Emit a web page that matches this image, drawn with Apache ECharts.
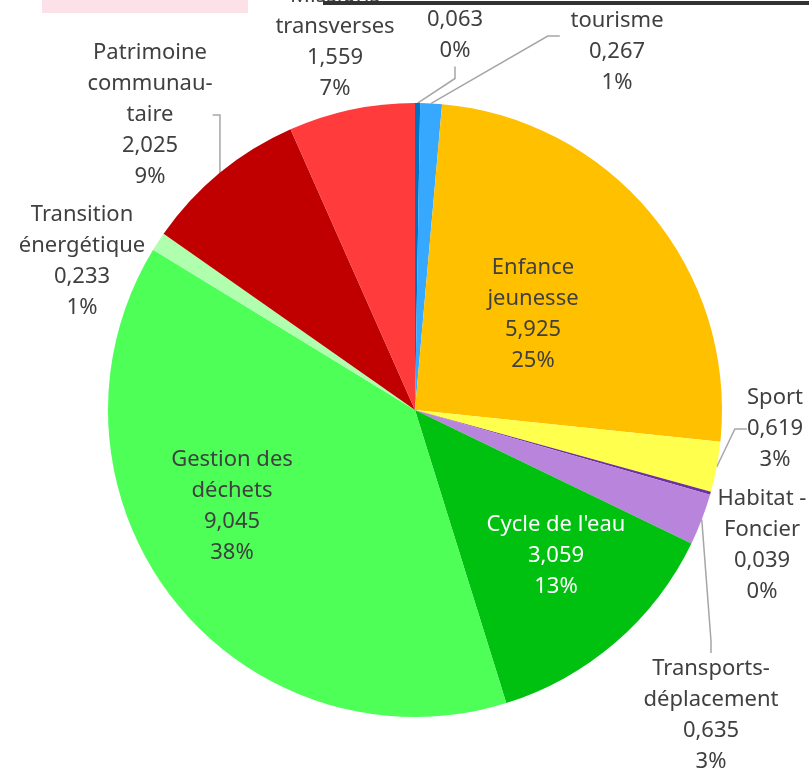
<!DOCTYPE html>
<html>
<head>
<meta charset="utf-8">
<script src="https://cdn.jsdelivr.net/npm/echarts@6/dist/echarts.min.js"></script>
<style>
  html, body { margin: 0; padding: 0; background: #fff; }
  #pie { width: 809px; height: 774px; }
</style>
</head>
<body>
<div id="pie"></div>
<script>
// data
const categories = [
  'Administration',
  'Economie -\ntourisme',
  'Enfance\njeunesse',
  'Sport',
  'Habitat -\nFoncier',
  'Transports-\ndéplacement',
  "Cycle de l'eau",
  'Gestion des\ndéchets',
  'Transition\nénergétique',
  'Patrimoine\ncommunau-\ntaire',
  'Missions\ntransverses'
]
const values = [0.063, 0.267, 5.925, 0.619, 0.039, 0.635, 3.059, 9.045, 0.233, 2.025, 1.559]
const colors = ['#0070C0', '#36A9FF', '#FFC000', '#FFFF4D', '#7030A0', '#B884DC',
  '#00C010', '#4DFF57', '#AFFFAF', '#C00000', '#FF3B3B']

// label placement
const labelX = [455, 617, 533, 775, 762, 711, 556, 232, 82, 150, 335]
const labelY = [20, 36, 314, 429, 545, 715, 556, 506, 261, 115, 42]
const insideLabel = [false, false, true, false, false, false, true, true, false, false, false]
const showLine = [true, true, false, true, false, true, false, false, false, true, false]

const chart = echarts.init(document.getElementById('pie'))

const seriesData = values.map((v, i) => ({
  name: categories[i],
  value: v,
  itemStyle: { color: colors[i] },
  label: {
    position: insideLabel[i] ? 'inside' : 'outside',
    color: i === 6 ? '#ffffff' : '#404040'
  },
  labelLine: { show: showLine[i] }
}))

chart.setOption({
  animation: false,
  graphic: [
    { type: 'rect', shape: { x: 42, y: 0, width: 206, height: 13 }, style: { fill: '#FDE1E9' } },
    { type: 'rect', shape: { x: 323, y: 1, width: 486, height: 4 }, style: { fill: '#333333' }, z: 100 }
  ],
  series: [
    {
      type: 'pie',
      center: [415, 410],
      radius: 307,
      startAngle: 90,
      clockwise: true,
      percentPrecision: 0,
      avoidLabelOverlap: false,
      label: {
        fontFamily: 'Noto Sans',
        fontSize: 22,
        lineHeight: 31,
        align: 'center',
        formatter: p => p.name + '\n' + p.value.toFixed(3).replace('.', ',') + '\n' + p.percent + '%'
      },
      labelLine: {
        length: 15,
        length2: 12,
        smooth: false,
        lineStyle: { color: '#A6A6A6', width: 1.5 }
      },
      labelLayout: p => ({
        x: labelX[p.dataIndex],
        y: labelY[p.dataIndex],
        align: 'center',
        verticalAlign: 'middle'
      }),
      data: seriesData
    }
  ]
})
</script>
</body>
</html>
